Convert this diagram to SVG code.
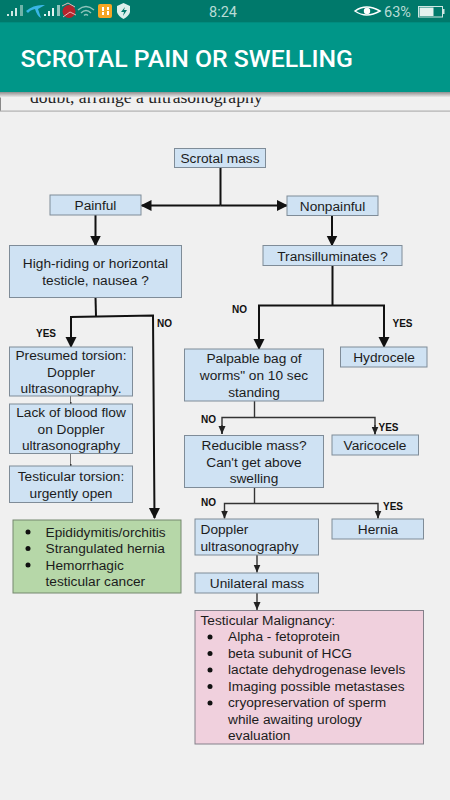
<svg xmlns="http://www.w3.org/2000/svg" width="450" height="800" viewBox="0 0 450 800">
<defs>
<linearGradient id="shadow" x1="0" y1="0" x2="0" y2="1"><stop offset="0" stop-color="#8f8f8f"/><stop offset="1" stop-color="#f0f0f0"/></linearGradient>
<marker id="ah" markerUnits="userSpaceOnUse" markerWidth="11" markerHeight="12" refX="10" refY="5.5" orient="auto"><path d="M0 0L11 5.500L0 11z" fill="#111"/></marker>
<marker id="as" markerUnits="userSpaceOnUse" markerWidth="9" markerHeight="8" refX="8" refY="3.5" orient="auto"><path d="M0 0L8 3.500L0 7z" fill="#222"/></marker>
</defs>
<style>
text{font-family:"Liberation Sans",Arial,sans-serif;font-size:13.7px;fill:#1c1c1c}
.c{text-anchor:middle}
.b{fill:#cfe2f3;stroke:#7f8c98;stroke-width:1}
.g{fill:#b6d7a8;stroke:#75876e;stroke-width:1}
.p{fill:#f0d0dd;stroke:#84808a;stroke-width:1}
.l{font-size:10px;font-weight:bold;fill:#111}
.w{fill:none;stroke:#111;stroke-width:2}
.t{fill:none;stroke:#333;stroke-width:1.4}
.n{fill:none;stroke:#777;stroke-width:1}
.st{font-family:Roboto,sans-serif;font-size:14.5px;fill:#b9dcd6}
</style>
<rect width="450" height="800" fill="#f0f0f0"/>
<rect x="0" y="96" width="1" height="15" fill="#888"/>
<rect x="0" y="110.500" width="450" height="1.200" fill="#b0b0b0"/>
<text x="30" y="103" style="font-family:'Liberation Serif',serif;font-size:17.600px;fill:#222">doubt, arrange a ultrasonography</text>
<rect x="0" y="22" width="450" height="70" fill="#009688"/>
<rect x="0" y="0" width="450" height="22.300" fill="#00796b"/>
<rect x="0" y="92" width="450" height="5.500" fill="url(#shadow)"/>
<text x="20.500" y="67" style="font-family:Roboto,sans-serif;font-weight:500;font-size:24.800px;fill:#fff">SCROTAL PAIN OR SWELLING</text>
<g id="status-bar">
<path d="M7 14h2v2H7zM11 11h2v5h-2zM15 8h2v8h-2z" fill="#cfe7e3"/><rect x="20" y="5" width="3" height="11" fill="#6fb3a9"/>
<path d="M26 11Q34 4 45 5L38 9L41 18Q37 16 35 9Q30 10 28 13z" fill="#39b6e6"/>
<path d="M44 14h2v2h-2zM48 11h2v5h-2zM52 8h2v8h-2z" fill="#e6f3f1"/><rect x="57" y="5" width="3" height="11" fill="#8fc4bc"/>
<circle cx="69" cy="11.500" r="6.500" fill="#b5242c"/>
<path d="M62 6L68 3L75 7M63 17L70 12L76 15" fill="none" stroke="#e8b9b9" stroke-width="1"/>
<path d="M78 10Q86 3 94 10M81 13Q86 8 91 13M84 15.500Q86 13.500 88 15.500" fill="none" stroke="#8fc4bc" stroke-width="1.400"/>
<rect x="98" y="4" width="14" height="14" rx="2" fill="#f5a623"/>
<path d="M102 7h2v4h-2zM107 7h2v3h-2zM102 12h2v3h-2zM107 11h2v4h-2z" fill="#fff"/>
<path d="M117 6L123.500 3L130 6V12Q129 16 123.500 19Q118 16 117 12z" fill="#dcefec"/>
<path d="M125 7L121 12H124L123 16L127 10H124z" fill="#00796b"/>
<text x="209" y="17" class="st">8:24</text>
<path d="M355 11Q366 3 380 11Q366 19 355 11z" fill="none" stroke="#fff" stroke-width="1.500"/>
<circle cx="367" cy="11" r="3.200" fill="#fff"/>
<text x="384" y="17" class="st">63%</text>
<rect x="418.500" y="6.500" width="24" height="10.500" fill="none" stroke="#cfe7e3" stroke-width="1"/>
<rect x="419.500" y="7.500" width="14" height="8.500" fill="#e4f1ef"/>
<rect x="443" y="9" width="1.500" height="5" fill="#cfe7e3"/>
</g>
<g id="connectors">
<path class="w" d="M220.500 167V205.500"/>
<path class="w" d="M220.500 205.500H141.500" marker-end="url(#ah)"/>
<path class="w" d="M220.500 205.500H287" marker-end="url(#ah)"/>
<path class="w" d="M95.500 215V245.500" marker-end="url(#ah)"/>
<path class="w" d="M332 216V245.500" marker-end="url(#ah)"/>
<path class="w" d="M332.500 265V305.500"/>
<path class="w" d="M259 349V305.500H384V347" />
<path class="w" d="M259 340V349" marker-end="url(#ah)"/>
<path class="w" d="M384 340V347" marker-end="url(#ah)"/>
<path class="w" d="M95.500 297L96 316.500"/>
<path class="w" d="M71 347V317L153 315.500L154.500 518" marker-end="url(#ah)"/>
<path class="w" d="M71 335V347" marker-end="url(#ah)"/>
<path class="n" d="M70.500 396V404M70.500 453.500V466"/>
<path d="M70 402h1.500v2H70zM70 464h1.500v2H70z" fill="#333"/>
<path class="t" d="M254.500 401V417.500"/>
<path class="t" d="M222 434V417.500H375V434"/>
<path class="t" d="M222 425V434" marker-end="url(#as)"/>
<path class="t" d="M375 425V434.500" marker-end="url(#as)"/>
<path class="t" d="M254.500 487.500V503.500"/>
<path class="t" d="M224.500 518V503.500H378V518"/>
<path class="t" d="M224.500 510V518.500" marker-end="url(#as)"/>
<path class="t" d="M378 510V518.500" marker-end="url(#as)"/>
<path class="t" d="M257 555V572.500" marker-end="url(#as)"/>
<path class="t" d="M257 593V610" marker-end="url(#as)"/>
</g>
<g id="scrotal-mass"><rect class="b" x="174.500" y="148.500" width="91" height="19"/><text class="c" x="220" y="163">Scrotal mass</text></g>
<g id="painful"><rect class="b" x="50" y="195" width="91" height="20"/><text class="c" x="95.500" y="210">Painful</text></g>
<g id="nonpainful"><rect class="b" x="287" y="196" width="91" height="19.500"/><text class="c" x="332.500" y="211">Nonpainful</text></g>
<g id="transilluminates"><rect class="b" x="263" y="245.500" width="139" height="20"/><text class="c" x="332.500" y="260.500">Transilluminates ?</text></g>
<g id="high-riding"><rect class="b" x="9.500" y="245.500" width="172" height="52"/><text class="c" x="95.500" y="268">High-riding or horizontal</text><text class="c" x="95.500" y="285">testicle, nausea ?</text></g>
<g id="presumed-torsion"><rect class="b" x="9.500" y="347" width="123" height="49"/><text class="c" x="71" y="360">Presumed torsion:</text><text class="c" x="71" y="376.500">Doppler</text><text class="c" x="71" y="393">ultrasonography.</text></g>
<g id="lack-of-blood-flow"><rect class="b" x="9.500" y="404" width="123" height="49.500"/><text class="c" x="71" y="417">Lack of blood flow</text><text class="c" x="71" y="433.500">on Doppler</text><text class="c" x="71" y="450">ultrasonography</text></g>
<g id="testicular-torsion"><rect class="b" x="9.500" y="466" width="123" height="36.500"/><text class="c" x="71" y="481">Testicular torsion:</text><text class="c" x="71" y="498">urgently open</text></g>
<g id="differential"><rect class="g" x="13" y="520" width="168" height="73"/>
<circle cx="28" cy="532" r="2.500" fill="#111"/><circle cx="28" cy="548.500" r="2.500" fill="#111"/><circle cx="28" cy="565" r="2.500" fill="#111"/>
<text x="45.500" y="536.500">Epididymitis/orchitis</text><text x="45.500" y="553">Strangulated hernia</text><text x="45.500" y="569.500">Hemorrhagic</text><text x="45.500" y="586">testicular cancer</text></g>
<g id="palpable"><rect class="b" x="184.500" y="349" width="139" height="52"/><text class="c" x="254" y="363">Palpable bag of</text><text class="c" x="254" y="380">worms" on 10 sec</text><text class="c" x="254" y="396.500">standing</text></g>
<g id="hydrocele"><rect class="b" x="340.500" y="347" width="86.500" height="20"/><text class="c" x="384" y="362">Hydrocele</text></g>
<g id="varicocele"><rect class="b" x="332" y="435" width="86.500" height="20"/><text class="c" x="375" y="450">Varicocele</text></g>
<g id="reducible"><rect class="b" x="184.500" y="435.500" width="139" height="52"/><text class="c" x="254" y="450">Reducible mass?</text><text class="c" x="254" y="466.500">Can't get above</text><text class="c" x="254" y="483">swelling</text></g>
<g id="doppler"><rect class="b" x="195" y="519" width="123.500" height="36"/><text x="200.500" y="534">Doppler</text><text x="200.500" y="550.500">ultrasonography</text></g>
<g id="hernia"><rect class="b" x="332" y="519" width="91.500" height="20"/><text class="c" x="378" y="534">Hernia</text></g>
<g id="unilateral"><rect class="b" x="195" y="573" width="123.500" height="20"/><text class="c" x="257" y="588">Unilateral mass</text></g>
<g id="malignancy"><rect class="p" x="195" y="610.500" width="228.500" height="133.500"/>
<text x="200.500" y="624.500">Testicular Malignancy:</text>
<circle cx="210" cy="637" r="2.500" fill="#111"/><circle cx="210" cy="653.500" r="2.500" fill="#111"/><circle cx="210" cy="670" r="2.500" fill="#111"/><circle cx="210" cy="686.500" r="2.500" fill="#111"/><circle cx="210" cy="703" r="2.500" fill="#111"/>
<text x="228" y="641">Alpha - fetoprotein</text><text x="228" y="657.500">beta subunit of HCG</text><text x="228" y="674">lactate dehydrogenase levels</text><text x="228" y="690.500">Imaging possible metastases</text><text x="228" y="707">cryopreservation of sperm</text><text x="228" y="723.500">while awaiting urology</text><text x="228" y="740">evaluation</text></g>
<g id="labels">
<text class="l" x="36" y="337">YES</text><text class="l" x="157" y="326.500">NO</text>
<text class="l" x="232" y="313">NO</text><text class="l" x="392.500" y="326.500">YES</text>
<text class="l" x="201" y="423">NO</text><text class="l" x="378.500" y="430.500">YES</text>
<text class="l" x="201" y="505.500">NO</text><text class="l" x="383" y="509.500">YES</text>
</g>
</svg>
